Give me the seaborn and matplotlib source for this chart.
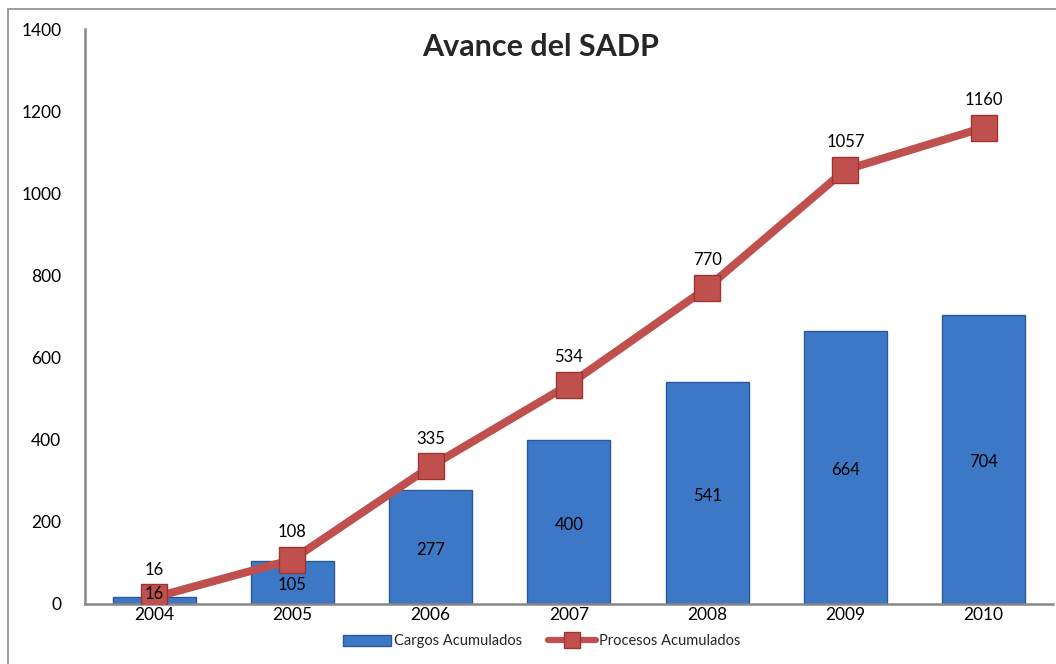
import pandas as pd
import seaborn as sns
import matplotlib.pyplot as plt
from matplotlib.patches import Patch, Rectangle
from matplotlib.lines import Line2D

# Chart data
years = ['2004', '2005', '2006', '2007', '2008', '2009', '2010']
cargos = [16, 105, 277, 400, 541, 664, 704]
procesos = [16, 108, 335, 534, 770, 1057, 1160]

df = pd.DataFrame({'year': years, 'cargos': cargos, 'procesos': procesos})

sns.set_style('white')
plt.rcParams['font.family'] = ['Lato', 'DejaVu Sans']

bar_color = '#3D78C6'
line_color = '#C0504D'

fig = plt.figure(figsize=(10.56, 6.64), dpi=100)
ax = fig.add_axes([0.0805, 0.0904, 0.9165, 0.8659])

# Bars
sns.barplot(data=df, x='year', y='cargos', color=bar_color, width=0.6,
            edgecolor='#2C5A96', linewidth=1, saturation=1, ax=ax, zorder=2)

# Line with square markers
sns.pointplot(data=df, x='year', y='procesos', color=line_color, markers='s',
              errorbar=None, ax=ax, markersize=19,
              markeredgecolor='#9E3431', markeredgewidth=1, zorder=3)
for ln in ax.lines:
    ln.set_linewidth(5.8)
    ln.set_zorder(3)

# Data labels
for i, v in enumerate(cargos):
    ax.annotate(str(v), (i, v / 2), ha='center', va='center', fontsize=12,
                color='black', xytext=(0, 5 if v < 50 else -2),
                textcoords='offset points', zorder=5)
for i, v in enumerate(procesos):
    ax.annotate(str(v), (i, v), ha='center', va='bottom', fontsize=12,
                color='black', xytext=(0, 14), textcoords='offset points', zorder=5)

ax.set_xlim(-0.5, 6.5)
ax.set_ylim(0, 1400)
ax.set_yticks(range(0, 1401, 200))
ax.set_xlabel('')
ax.set_ylabel('')
ax.tick_params(axis='both', length=0, labelsize=12.5, colors='black')
ax.tick_params(axis='y', pad=17)
ax.tick_params(axis='x', pad=2)
sns.despine(ax=ax)
for s in ['left', 'bottom']:
    ax.spines[s].set_color('#878787')
    ax.spines[s].set_linewidth(1.8)

fig.text(0.512, 0.929, 'Avance del SADP', ha='center', va='center',
         fontsize=22, fontweight='bold')

handles = [Patch(facecolor=bar_color, edgecolor='#2C5A96'),
           Line2D([0], [0], color=line_color, lw=4.5, marker='s',
                  markersize=11, markeredgecolor='#9E3431')]
fig.legend(handles, ['Cargos Acumulados', 'Procesos Acumulados'],
           loc='center', bbox_to_anchor=(0.513, 0.034), ncol=2, frameon=False,
           fontsize=10.5, handlelength=3.3, handleheight=0.8,
           handletextpad=0.2, columnspacing=1.8)

# Outer chart border
fig.patches.append(Rectangle((8 / 1056, -0.1), 1.2, 1 - 9 / 664 + 0.1,
                             transform=fig.transFigure, fill=False,
                             edgecolor='#8C8C8C', linewidth=1.2))

fig.savefig('out.png', dpi=100)
